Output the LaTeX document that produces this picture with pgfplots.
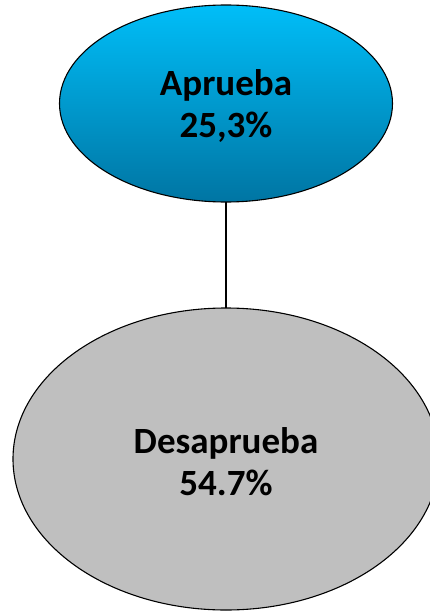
\documentclass[border=0pt]{standalone}
\usepackage{fontspec}
\setmainfont{Carlito}
\usepackage{pgfplots}
\pgfplotsset{compat=1.18}
\usetikzlibrary{shapes.geometric}

\definecolor{blueTop}{RGB}{0,190,248}
\definecolor{blueBot}{RGB}{0,117,163}
\definecolor{grayFill}{RGB}{191,191,191}

\pgfplotsset{lbl/.style={only marks, mark=none, point meta=explicit symbolic,
    nodes near coords,
    every node near coord/.style={anchor=center, align=center, inner sep=0pt,
        font=\fontsize{37bp}{42bp}\selectfont\bfseries}}}

\begin{document}
\begin{tikzpicture}
\begin{axis}[name=ax, at={(0,0)}, anchor=south west,
    scale only axis, width=430bp, height=611bp,
    xmin=0, xmax=430, ymin=0, ymax=611, y dir=reverse,
    axis lines=none, ticks=none, clip=false,
    nodes near coords align=center]
% connector
\addplot[black, line width=1.1pt, mark=none] coordinates {(226,202) (226,308)};
% Aprueba ellipse
\addplot[only marks, mark=none, point meta=explicit symbolic,
    nodes near coords,
    every node near coord/.style={ellipse, draw=black, line width=1.1pt,
        top color=blueTop, bottom color=blueBot,
        minimum width=333bp, minimum height=197bp, inner sep=0pt,
        anchor=center}]
    coordinates {(226,103.5) []};
% Desaprueba ellipse
\addplot[only marks, mark=none, point meta=explicit symbolic,
    nodes near coords,
    every node near coord/.style={ellipse, draw=black, line width=1.1pt,
        fill=grayFill,
        minimum width=426bp, minimum height=302bp, inner sep=0pt,
        anchor=center}]
    coordinates {(226,459) []};
% labels
\addplot[lbl] coordinates {(226,106) [Aprueba\\25,3\%]};
\addplot[lbl] coordinates {(226,462) [Desaprueba\\54.7\%]};
\end{axis}
\pgfresetboundingbox
\useasboundingbox (ax.south west) rectangle (ax.north east);
\end{tikzpicture}
\end{document}
